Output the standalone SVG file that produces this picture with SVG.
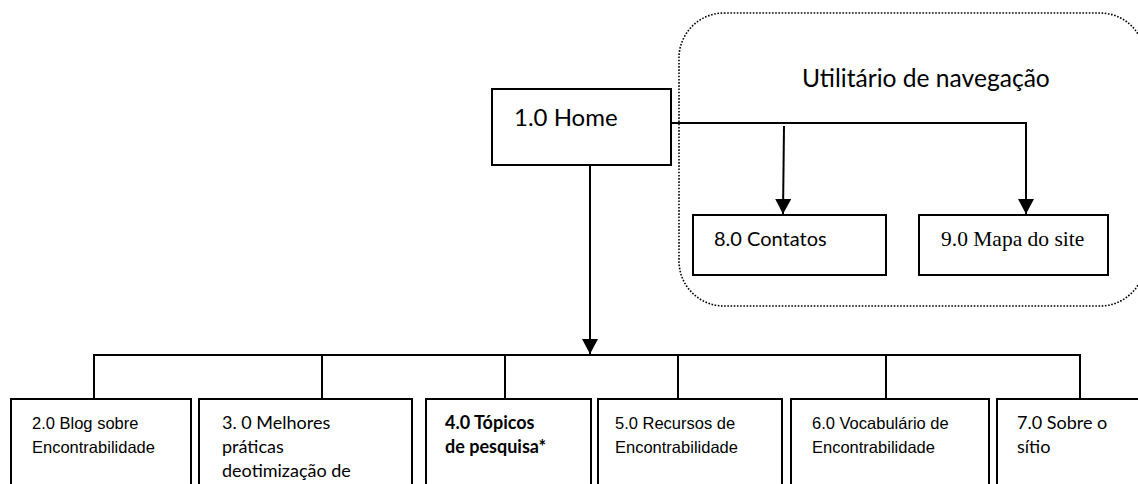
<svg xmlns="http://www.w3.org/2000/svg" width="1138" height="484" viewBox="0 0 1138 484">
  <style>
    .box { fill: #ffffff; stroke: #000000; stroke-width: 2; }
    .line { fill: none; stroke: #000000; stroke-width: 2; }
    .group { fill: none; stroke: #000000; stroke-width: 1.6; stroke-dasharray: 1.6 1.6; }
    .cal { font-family: Lato, "Open Sans", sans-serif; fill: #000000; }
    .ari { font-family: "Liberation Sans", Arial, sans-serif; fill: #000000; font-size: 16.5px; }
    .tim { font-family: "Liberation Serif", "Times New Roman", serif; fill: #000000; }
    .sub { font-size: 18px; }
  </style>
  <defs>
    <marker id="arrow" markerUnits="userSpaceOnUse" markerWidth="16" markerHeight="16" viewBox="0 0 16 16" refX="15" refY="8" orient="auto">
      <path d="M0,0 L15,8 L0,16 Z" fill="#000000"/>
    </marker>
  </defs>

  <rect width="1138" height="484" fill="#ffffff"/>

  <!-- navigation utilities group -->
  <g id="nav-group">
    <rect class="group" x="679" y="13" width="466" height="293" rx="45" ry="45"/>
    <text class="cal" x="802" y="87" font-size="24.6">Utilitário de navegação</text>
  </g>

  <!-- connectors -->
  <g id="connectors">
    <polyline class="line" points="671,123 1026,123 1026,214" marker-end="url(#arrow)"/>
    <line class="line" x1="784" y1="126" x2="783" y2="214" marker-end="url(#arrow)"/>
    <line class="line" x1="590" y1="165" x2="590" y2="354" marker-end="url(#arrow)"/>
    <polyline class="line" points="94,399 94,355 1080,355 1080,399"/>
    <line class="line" x1="322" y1="355" x2="322" y2="399"/>
    <line class="line" x1="505" y1="355" x2="505" y2="399"/>
    <line class="line" x1="678" y1="355" x2="678" y2="399"/>
    <line class="line" x1="886" y1="355" x2="886" y2="399"/>
  </g>

  <g id="home">
    <rect class="box" x="492" y="89" width="179" height="76"/>
    <text class="cal" x="514" y="126" font-size="24">1.0 Home</text>
  </g>

  <g id="contatos">
    <rect class="box" x="693" y="215" width="193" height="60"/>
    <text class="cal" x="714" y="246" font-size="20">8.0 Contatos</text>
  </g>

  <g id="mapa">
    <rect class="box" x="919" y="215" width="189" height="60"/>
    <text class="tim" x="941" y="246" font-size="21.5">9.0 Mapa do site</text>
  </g>

  <g id="blog">
    <rect class="box" x="11" y="399" width="180" height="100"/>
    <text class="ari" x="32" y="429">2.0 Blog sobre</text>
    <text class="ari" x="32" y="453">Encontrabilidade</text>
  </g>

  <g id="praticas">
    <rect class="box" x="199" y="399" width="213" height="100"/>
    <text class="cal sub" x="222" y="429">3. 0 Melhores</text>
    <text class="cal sub" x="222" y="453">práticas</text>
    <text class="cal sub" x="222" y="477">deotimização de</text>
  </g>

  <g id="topicos">
    <rect class="box" x="426" y="399" width="165" height="100"/>
    <text class="cal sub" x="445" y="429" font-weight="bold">4.0 Tópicos</text>
    <text class="cal sub" x="445" y="453" font-weight="bold">de pesquisa*</text>
  </g>

  <g id="recursos">
    <rect class="box" x="598" y="399" width="184" height="100"/>
    <text class="ari" x="615" y="429">5.0 Recursos de</text>
    <text class="ari" x="615" y="453">Encontrabilidade</text>
  </g>

  <g id="vocabulario">
    <rect class="box" x="791" y="399" width="198" height="100"/>
    <text class="ari" x="812" y="429">6.0 Vocabulário de</text>
    <text class="ari" x="812" y="453">Encontrabilidade</text>
  </g>

  <g id="sobre">
    <rect class="box" x="997" y="399" width="150" height="100"/>
    <text class="cal sub" x="1017" y="429">7.0 Sobre o</text>
    <text class="cal sub" x="1017" y="453">sítio</text>
  </g>
</svg>
